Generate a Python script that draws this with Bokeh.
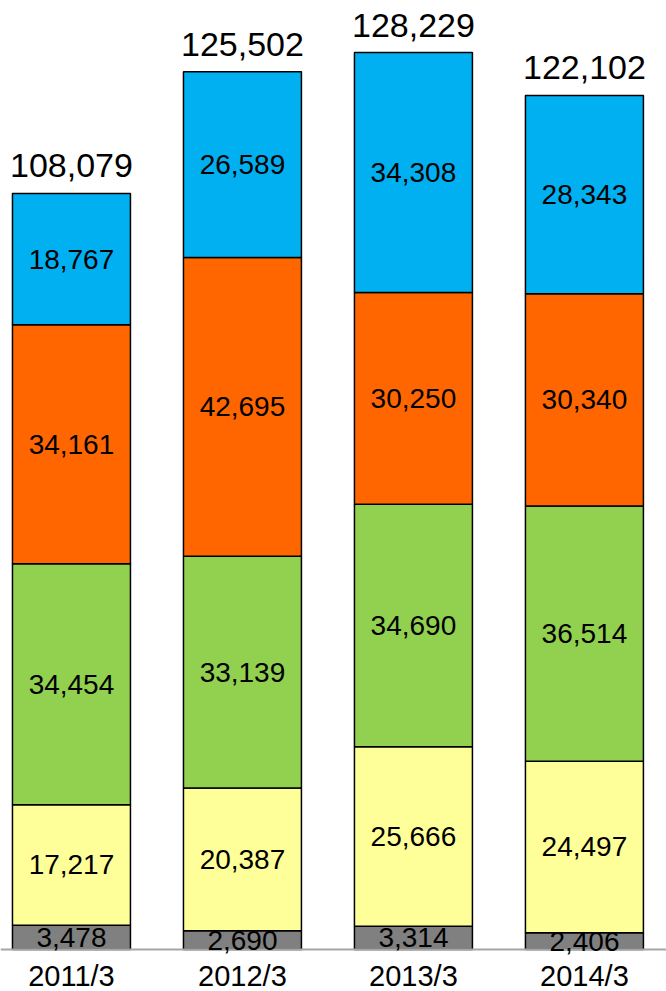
from bokeh.plotting import figure
from bokeh.models import ColumnDataSource, Range1d, LabelSet, Span
from bokeh.core.properties import value
from bokeh.embed import file_html
from bokeh.resources import INLINE

categories = ["2011/3", "2012/3", "2013/3", "2014/3"]
gray_vals = [3478, 2690, 3314, 2406]
yellow_vals = [17217, 20387, 25666, 24497]
green_vals = [34454, 33139, 34690, 36514]
orange_vals = [34161, 42695, 30250, 30340]
blue_vals = [18767, 26589, 34308, 28343]
totals = [108079, 125502, 128229, 122102]

series = ["gray", "yellow", "green", "orange", "blue"]
colors = ["#808080", "#FFFF99", "#92D050", "#FF6600", "#00B0F0"]
vals = [gray_vals, yellow_vals, green_vals, orange_vals, blue_vals]

xs = list(range(len(categories)))
data = {"x": xs}
for name, v in zip(series, vals):
    data[name] = v
source = ColumnDataSource(data)

FONT = "Liberation Sans"

p = figure(width=666, height=991, output_backend="svg", toolbar_location=None,
           x_range=Range1d(-0.415, 3.480), y_range=Range1d(-6004, 135668),
           x_axis_location=None, y_axis_location=None,
           min_border_left=0, min_border_right=0, min_border_top=0, min_border_bottom=0)
p.outline_line_color = None
p.xgrid.visible = False
p.ygrid.visible = False

p.vbar_stack(series, x="x", width=0.69, color=colors, line_color="black",
             line_width=1.5, source=source)

# baseline (category axis line)
p.add_layout(Span(location=0, dimension="width", line_color="#a6a6a6", line_width=2))

# segment labels
lx, ly, lt = [], [], []
for i in xs:
    base = 0
    for v in vals:
        v_i = v[i]
        lx.append(i)
        ly.append(base + v_i / 2)
        lt.append(f"{v_i:,}")
        base += v_i
seg_src = ColumnDataSource(dict(x=lx, y=ly, t=lt))
p.add_layout(LabelSet(x="x", y="y", text="t", source=seg_src, text_align="center",
                      text_baseline="middle", text_font=value(FONT),
                      text_font_size="28px", text_color="black"))

# totals above bars
tops = [sum(v[i] for v in vals) for i in xs]
tot_src = ColumnDataSource(dict(x=xs, y=tops, t=[f"{t:,}" for t in totals]))
p.add_layout(LabelSet(x="x", y="y", text="t", source=tot_src, text_align="center",
                      text_baseline="alphabetic", y_offset=16, text_font=value(FONT),
                      text_font_size="34px", text_color="black"))

# category labels
cat_src = ColumnDataSource(dict(x=xs, y=[0] * len(xs), t=categories))
p.add_layout(LabelSet(x="x", y="y", text="t", source=cat_src, text_align="center",
                      text_baseline="alphabetic", y_offset=-36, text_font=value(FONT),
                      text_font_size="29px", text_color="black"))

open("out.html", "w").write(file_html(p, INLINE))
